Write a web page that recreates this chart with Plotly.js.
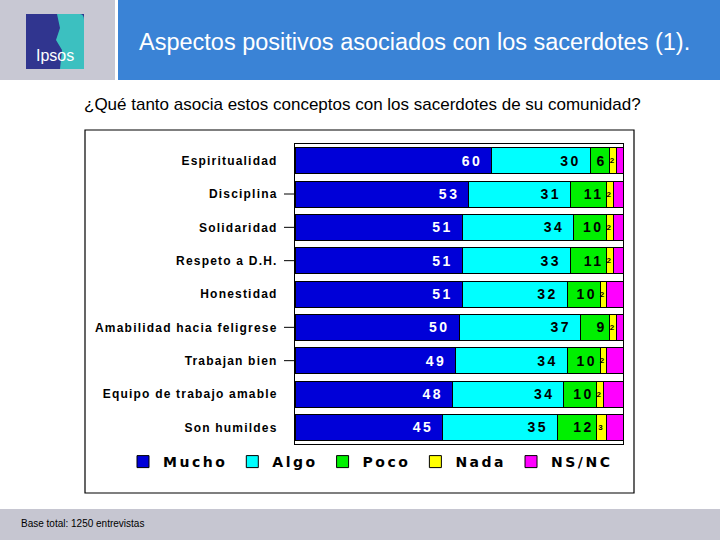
<!DOCTYPE html>
<html>
<head>
<meta charset="utf-8">
<script src="https://cdn.plot.ly/plotly-3.0.1.min.js"></script>
<style>
html,body{margin:0;padding:0;background:#fff;}
#chart{width:720px;height:540px;}
.legendtext{letter-spacing:2.5px;}
.bartext{letter-spacing:2.5px;}
.ytick text{letter-spacing:1.2px;}
</style>
</head>
<body>
<div id="chart"></div>
<script>
const categories = ['Espiritualidad','Disciplina','Solidaridad','Respeto a D.H.','Honestidad','Amabilidad hacia feligrese','Trabajan bien','Equipo de trabajo amable','Son humildes'];
const seriesNames = ['Mucho','Algo','Poco','Nada','NS/NC'];
const mucho = [60,53,51,51,51,50,49,48,45];
const algo  = [30,31,34,33,32,37,34,34,35];
const poco  = [6,11,10,11,10,9,10,10,12];
const nada  = [2,2,2,2,2,2,2,2,3];
const nsnc  = [2,3,3,3,5,2,5,6,5];
const tickedCategories = ['Disciplina','Solidaridad','Respeto a D.H.','Amabilidad hacia feligrese','Trabajan bien'];

const seriesValues = [mucho, algo, poco, nada, nsnc];
const colors = ['#0000d8','#00ffff','#00f000','#ffff00','#ff00ff'];
const textColors = ['#ffffff','#000000','#000000','#000000','#000000'];
const textSizes = [14,14,14,8,14];
const showText = [true,true,true,true,false];
const trailPad = [true,true,false,false,false];

// plot-area geometry in pixels
const L = 295, R = 623, T = 144, B = 444;
const px = x => (x - L) / (R - L);
const py = y => (B - y) / (B - T);

const FONT = 'Liberation Sans, Arial, sans-serif';

const traces = seriesValues.map((vals, i) => ({
  type: 'bar',
  orientation: 'h',
  name: seriesNames[i],
  y: categories,
  x: vals,
  text: showText[i] ? vals.map(v => String(v) + (trailPad[i] ? '\u00a0' : '')) : undefined,
  textposition: showText[i] ? 'inside' : 'none',
  insidetextanchor: i === 3 ? 'middle' : 'end',
  constraintext: i === 3 ? 'none' : 'inside',
  textangle: 0,
  textfont: {family: FONT, size: textSizes[i], color: textColors[i], weight: 'bold'},
  marker: {color: colors[i], line: {color: '#000000', width: 1}},
  hoverinfo: 'none'
}));

const shapes = [
  {type:'rect', xref:'paper', yref:'paper', x0:px(0), x1:px(115), y0:py(80), y1:py(0), fillcolor:'#c8c8d3', line:{width:0}, layer:'below'},
  {type:'rect', xref:'paper', yref:'paper', x0:px(118), x1:px(720), y0:py(80), y1:py(0), fillcolor:'#3a83d6', line:{width:0}, layer:'below'},
  {type:'rect', xref:'paper', yref:'paper', x0:px(26), x1:px(84), y0:py(69), y1:py(14), fillcolor:'#30358f', line:{width:0}},
  {type:'path', xref:'paper', yref:'paper', path:
    'M '+px(57)+','+py(14)+' L '+px(80)+','+py(14)+' Q '+px(84)+','+py(14)+' '+px(84)+','+py(20)+' L '+px(84)+','+py(69)+' L '+px(60)+','+py(69)+' L '+px(62)+','+py(50)+' L '+px(56)+','+py(40)+' L '+px(60)+','+py(28)+' Z',
    fillcolor:'#3cc0c0', line:{width:0}},
  {type:'rect', xref:'paper', yref:'paper', x0:px(0), x1:px(720), y0:py(540), y1:py(509), fillcolor:'#c6c6d1', line:{width:0}, layer:'below'},
  {type:'rect', xref:'paper', yref:'paper', x0:px(85), x1:px(634), y0:py(493), y1:py(130), fillcolor:'rgba(0,0,0,0)', line:{color:'#000000', width:1.2}, layer:'below'}
];
tickedCategories.forEach(c => shapes.push({
  type:'line', xref:'paper', yref:'y', x0:px(284), x1:px(295), y0:c, y1:c, line:{color:'#000000', width:1}
}));

const annotations = [
  {xref:'paper', yref:'paper', x:px(414), y:py(42), text:'Aspectos positivos asociados con los sacerdotes (1).', showarrow:false,
   font:{family:FONT, size:23.5, color:'#ffffff'}, xanchor:'center', yanchor:'middle'},
  {xref:'paper', yref:'paper', x:px(55), y:py(55), text:'Ipsos', showarrow:false,
   font:{family:FONT, size:16, color:'#ffffff'}, xanchor:'center', yanchor:'middle'},
  {xref:'paper', yref:'paper', x:px(362), y:py(104), text:'¿Qué tanto asocia estos conceptos con los sacerdotes de su comunidad?', showarrow:false,
   font:{family:FONT, size:17, color:'#000000'}, xanchor:'center', yanchor:'middle'},
  {xref:'paper', yref:'paper', x:px(19), y:py(523), text:'Base total: 1250 entrevistas', showarrow:false,
   font:{family:'Liberation Sans Narrow, Liberation Sans, Arial, sans-serif', size:10, color:'#000000'}, xanchor:'left', yanchor:'middle'}
];

const layout = {
  width: 720, height: 540,
  margin: {l: L, r: 720 - R, t: T, b: 540 - B, pad: 0},
  paper_bgcolor: '#ffffff', plot_bgcolor: '#ffffff',
  barmode: 'stack',
  bargap: 0.22,
  showlegend: true,
  legend: {orientation: 'h', x: px(123), xanchor: 'left', y: py(462), yanchor: 'middle',
    font: {family: 'DejaVu Sans, sans-serif', size: 14, color: '#000000', weight: 'bold'},
    traceorder: 'normal', itemclick: false, bgcolor: 'rgba(0,0,0,0)'},
  xaxis: {range: [0, 100], showticklabels: false, ticks: '', showgrid: false, zeroline: false,
    showline: true, mirror: true, linecolor: '#000000', linewidth: 1, fixedrange: true},
  yaxis: {autorange: 'reversed', type: 'category', showgrid: false, zeroline: false,
    showline: true, mirror: true, linecolor: '#000000', linewidth: 1,
    ticks: 'outside', ticklen: 14, tickcolor: 'rgba(0,0,0,0)',
    tickfont: {family: FONT, size: 12, color: '#000000', weight: 'bold'}, fixedrange: true},
  shapes: shapes,
  annotations: annotations
};

Plotly.newPlot('chart', traces, layout, {displayModeBar: false, staticPlot: true});
</script>
</body>
</html>
